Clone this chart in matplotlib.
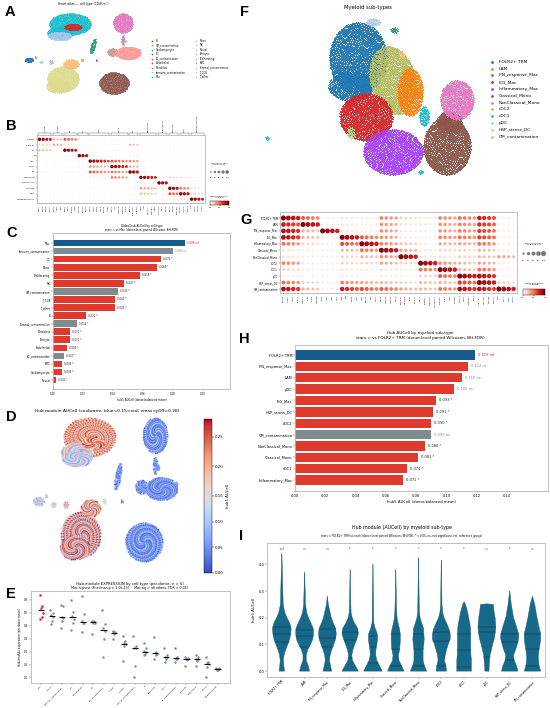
import numpy as np
import matplotlib
matplotlib.use("Agg")
import matplotlib.pyplot as plt
from matplotlib.colors import TwoSlopeNorm, Normalize
from matplotlib.cm import ScalarMappable

plt.rcParams['font.family'] = ['DejaVu Sans']

# ======================= DATA =======================
# ---- Panel A / D : heart atlas UMAP (embedding coordinates) ----
ATLAS_TYPES = ['B', 'CM_contamination', 'Cardiomyocyte', 'DC', 'EC_contamination', 'Endothelial',
               'Fibroblast', 'Immune_contamination', 'Mac', 'Mono', 'NK', 'Neural', 'Pericyte',
               'Proliferating', 'SMC', 'Stromal_contamination', 'T_CD8', 'T_other']
ATLAS_COLORS = ['#1f77b4', '#ff7f0e', '#279e68', '#d62728', '#aa40fc', '#8c564b', '#e377c2', '#b5bd61',
                '#17becf', '#aec7e8', '#ffbb78', '#98df8a', '#ff9896', '#c5b0d5', '#c49c94', '#f7b6d2',
                '#dbdb8d', '#9edae5']
A_BLOB_TYPE = ['Mac', 'Mac', 'Mono', 'DC', 'Fibroblast', 'Fibroblast', 'Cardiomyocyte', 'SMC', 'Pericyte',
               'B', 'T_CD8', 'T_CD8', 'NK', 'T_other', 'Proliferating', 'Endothelial', 'CM_contamination',
               'Neural', 'EC_contamination', 'Stromal_contamination', 'Immune_contamination']
A_BLOB_X = [70, 60, 60, 73, 123, 123, 93, 112, 128, 29, 63, 58, 71, 41, 51, 114, 35, 125, 96, 140, 82]
A_BLOB_Y = [24, 33, 36, 27, 23, 40, 46, 52, 53, 60, 79, 86, 64, 62, 62, 83, 57, 41, 60, 50, 60]
A_BLOB_RX = [21, 13, 12, 9, 10, 1.8, 2.2, 5, 13, 4.5, 16, 12, 8, 2, 2, 15, 1, 1.5, 1, 1, 1.5]
A_BLOB_RY = [11, 6, 4.5, 3.5, 10, 5, 8, 4, 6.5, 2.5, 13, 7, 5, 1.5, 2, 11, 1, 1.5, 1, 1, 1.5]
A_BLOB_ROT = [0, 0, 0, 0, 0, 0, 15, 0, 0, 0, 0, 0, 0, 0, 0, 0, 0, 0, 0, 0, 0]
# hub AUCell levels seen inside each blob (panel D)
D_BLOB_AUC = [[0.26, 0.21, 0.17, 0.24, 0.13, 0.22, 0.19],
              [0.16, 0.10, 0.19, 0.13, 0.22, 0.08, 0.15],
              [0.12, 0.16, 0.08, 0.19, 0.10, 0.14, 0.06],
              [0.25, 0.20, 0.27, 0.18, 0.23, 0.15, 0.21],
              [0.03, 0.06, 0.02, 0.09, 0.04, 0.12, 0.05],
              [0.03, 0.06, 0.02, 0.09, 0.04, 0.12, 0.05],
              [0.04, 0.08, 0.02, 0.06, 0.10, 0.03, 0.05],
              [0.03, 0.05, 0.08, 0.02, 0.06, 0.04, 0.10],
              [0.02, 0.05, 0.07, 0.03, 0.10, 0.04, 0.06],
              [0.10, 0.16, 0.07, 0.13, 0.19, 0.09, 0.12],
              [0.25, 0.19, 0.11, 0.23, 0.16, 0.27, 0.08],
              [0.25, 0.19, 0.11, 0.23, 0.16, 0.27, 0.08],
              [0.22, 0.14, 0.26, 0.18, 0.10, 0.24, 0.20],
              [0.20, 0.12, 0.16],
              [0.18, 0.10, 0.22],
              [0.02, 0.05, 0.03, 0.08, 0.04, 0.11, 0.06],
              [0.10], [0.05], [0.05], [0.06], [0.15]]

# ---- Panel B : atlas marker dotplot ----
B_ROWS = ['T_CD8', 'T_other', 'NK', 'B', 'Mac', 'Mono', 'DC', 'Fibroblast', 'Endothelial', 'Pericyte',
          'SMC', 'Cardiomyocyte']
B_GENES = [['CD8A', 'CD8B', 'GZMK', 'CCL5'], ['CD3E', 'IL7R', 'CD4'], ['NKG7', 'GNLY', 'KLRD1', 'PRF1'],
           ['MS4A1', 'CD79A', 'CD19'], ['CD68', 'C1QA', 'C1QB', 'MRC1', 'CD163', 'LYVE1'],
           ['CD14', 'LYZ', 'S100A8', 'S100A9', 'FCN1'], ['CD1C', 'CLEC10A', 'FCER1A'],
           ['DCN', 'LUM', 'COL1A1', 'PDGFRA', 'GSN'], ['PECAM1', 'VWF', 'CDH5'], ['RGS5', 'KCNJ8', 'PDGFRB'],
           ['MYH11', 'ACTA2', 'TAGLN'], ['TTN', 'MYH7', 'TNNT2', 'RYR2']]
B_EXPR = [[0.95, 0.30, 0.60, 0.05, 0.05, 0.05, 0.05, 0.03, 0.03, 0.03, 0.03, 0.03],
          [0.20, 0.35, 0.10, 0.05, 0.05, 0.05, 0.30, 0.03, 0.03, 0.03, 0.03, 0.03],
          [0.30, 0.05, 0.95, 0.05, 0.05, 0.05, 0.05, 0.03, 0.03, 0.03, 0.03, 0.03],
          [0.05, 0.05, 0.05, 0.95, 0.05, 0.05, 0.10, 0.03, 0.03, 0.03, 0.03, 0.03],
          [0.05, 0.05, 0.05, 0.05, 0.95, 0.60, 0.45, 0.05, 0.03, 0.03, 0.03, 0.03],
          [0.05, 0.05, 0.05, 0.05, 0.40, 0.95, 0.35, 0.03, 0.03, 0.03, 0.03, 0.03],
          [0.05, 0.05, 0.05, 0.05, 0.60, 0.50, 0.95, 0.03, 0.03, 0.03, 0.03, 0.03],
          [0.03, 0.03, 0.03, 0.03, 0.10, 0.50, 0.05, 0.95, 0.10, 0.20, 0.15, 0.10],
          [0.03, 0.03, 0.03, 0.03, 0.03, 0.03, 0.03, 0.10, 0.95, 0.10, 0.05, 0.05],
          [0.03, 0.03, 0.03, 0.03, 0.05, 0.03, 0.03, 0.40, 0.10, 0.95, 0.50, 0.15],
          [0.03, 0.03, 0.03, 0.03, 0.03, 0.03, 0.03, 0.30, 0.05, 0.60, 0.95, 0.20],
          [0.03, 0.03, 0.03, 0.03, 0.03, 0.03, 0.03, 0.05, 0.05, 0.10, 0.15, 0.95]]
B_FRAC = [[0.90, 0.40, 0.60, 0.15, 0.15, 0.15, 0.15, 0.12, 0.12, 0.12, 0.12, 0.12],
          [0.30, 0.40, 0.20, 0.15, 0.15, 0.15, 0.35, 0.12, 0.12, 0.12, 0.12, 0.12],
          [0.40, 0.15, 0.90, 0.15, 0.15, 0.15, 0.15, 0.12, 0.12, 0.12, 0.12, 0.12],
          [0.15, 0.15, 0.15, 0.90, 0.15, 0.15, 0.20, 0.12, 0.12, 0.12, 0.12, 0.12],
          [0.15, 0.15, 0.15, 0.15, 0.90, 0.60, 0.50, 0.15, 0.12, 0.12, 0.12, 0.12],
          [0.15, 0.15, 0.15, 0.15, 0.50, 0.90, 0.40, 0.12, 0.12, 0.12, 0.12, 0.12],
          [0.15, 0.15, 0.15, 0.15, 0.60, 0.55, 0.90, 0.12, 0.12, 0.12, 0.12, 0.12],
          [0.12, 0.12, 0.12, 0.12, 0.20, 0.50, 0.15, 0.90, 0.20, 0.30, 0.25, 0.20],
          [0.12, 0.12, 0.12, 0.12, 0.12, 0.12, 0.12, 0.20, 0.90, 0.20, 0.15, 0.15],
          [0.12, 0.12, 0.12, 0.12, 0.15, 0.12, 0.12, 0.45, 0.20, 0.90, 0.55, 0.25],
          [0.12, 0.12, 0.12, 0.12, 0.12, 0.12, 0.12, 0.40, 0.15, 0.60, 0.90, 0.30],
          [0.12, 0.12, 0.12, 0.12, 0.12, 0.12, 0.12, 0.15, 0.15, 0.20, 0.25, 0.90]]
GENE_SCALE = [1.0, 0.92, 0.85, 0.78, 0.72, 0.66]

# ---- Panel C : global hub AUCell by cell type ----
C_TYPES = ['Mac', 'Immune_contamination', 'DC', 'Mono', 'Proliferating', 'NK', 'CM_contamination', 'T_CD8',
           'T_other', 'B', 'Stromal_contamination', 'Fibroblast', 'Pericyte', 'Endothelial', 'EC_contamination',
           'SMC', 'Cardiomyocyte', 'Neural']
C_MEAN = [0.088, 0.080, 0.072, 0.069, 0.058, 0.047, 0.043, 0.041, 0.041, 0.022, 0.016, 0.011, 0.011, 0.009,
          0.007, 0.006, 0.006, 0.002]
C_SIG = ['ref', 'ns', '*', '*', '*', '*', '*', '*', '*', '*', '*', '*', '*', '*', '*', '*', '*', '*']
C_XTICKS = [0.00, 0.02, 0.04, 0.06, 0.08, 0.10]

# ---- Panel E : per-donor hub-module expression ----
E_TYPES = ['Mac', 'Mono', 'Immune_contamination', 'DC', 'Proliferating', 'NK', 'CM_contamination', 'T_CD8',
           'T_other', 'Stromal_contamination', 'B', 'Fibroblast', 'SMC', 'EC_contamination', 'Pericyte',
           'Endothelial', 'Neural', 'Cardiomyocyte']
E_DONOR = [[0.64, 0.55, 0.54, 0.50, 0.47, 0.45],
           [0.52, 0.50, 0.48, 0.465, 0.44, 0.41],
           [0.56, 0.55, 0.47, 0.462, 0.44, 0.38],
           [0.60, 0.51, 0.475, 0.455, 0.42, 0.37],
           [0.63, 0.49, 0.44, 0.425, 0.42, 0.35],
           [0.44, 0.435, 0.43, 0.425, 0.42, 0.34],
           [0.52, 0.41, 0.38, 0.36, 0.30, 0.16],
           [0.36, 0.355, 0.35, 0.345, 0.34, 0.30],
           [0.32, 0.28, 0.265, 0.255, 0.24, 0.13],
           [0.32, 0.24, 0.23, 0.225, 0.09, 0.00],
           [0.27, 0.23, 0.205, 0.195, 0.18, 0.17],
           [0.31, 0.20, 0.19, 0.185, 0.17, 0.14],
           [0.23, 0.17, 0.16, 0.155, 0.14, 0.12],
           [0.23, 0.16, 0.15, 0.145, 0.14, 0.12],
           [0.16, 0.15, 0.145, 0.14, 0.135, 0.09],
           [0.17, 0.155, 0.145, 0.14, 0.13, 0.09],
           [0.16, 0.12, 0.11, 0.105, 0.08, 0.00],
           [0.075, 0.07, 0.065, 0.062, 0.06, 0.055]]

# ---- Panel F : myeloid sub-type UMAP ----
F_TYPES = ['FOLR2+ TRM', 'LAM', 'IFN_response_Mac', 'IEG_Mac', 'Inflammatory_Mac', 'Classical_Mono',
           'NonClassical_Mono', 'cDC2', 'cDC1', 'pDC', 'HSP_stress_DC', 'CM_contamination']
F_COLORS = ['#1f77b4', '#ff7f0e', '#279e68', '#d62728', '#aa40fc', '#8c564b', '#e377c2', '#b5bd61',
            '#17becf', '#aec7e8', '#ffbb78', '#98df8a']
F_BLOB_TYPE = ['FOLR2+ TRM', 'FOLR2+ TRM', 'pDC', 'IFN_response_Mac', 'cDC2', 'LAM', 'IEG_Mac',
               'Inflammatory_Mac', 'Classical_Mono', 'Classical_Mono', 'NonClassical_Mono', 'cDC1', 'cDC1',
               'cDC1', 'CM_contamination', 'HSP_stress_DC']
F_BLOB_X = [358, 351, 373, 394, 393, 410, 366, 393, 447, 449, 457, 424, 421, 267, 351, 402]
F_BLOB_Y = [58, 86, 22, 30, 80, 92, 117, 152, 146, 122, 100, 116, 172, 138, 133, 55]
F_BLOB_RX = [29, 23, 7, 4, 23, 13, 27, 30, 24, 13, 17, 5, 3, 2, 4, 3]
F_BLOB_RY = [36, 15, 4, 3, 35, 24, 24, 23, 29, 11, 20, 10, 2, 2.5, 6, 3]
F_BLOB_ROT = [0, 0, 0, 0, -15, 0, 0, 0, 0, 0, 0, 0, 0, 0, 0, 0]

# ---- Panel G : myeloid marker dotplot ----
G_ROWS = F_TYPES
G_GENES = [['FOLR2', 'LYVE1', 'MRC1', 'F13A1'], ['TREM2', 'SPP1', 'APOE', 'GPNMB'],
           ['ISG15', 'IFIT1', 'IFIT3', 'MX1'], ['FOS', 'JUN', 'EGR1', 'IER2'],
           ['IL1B', 'CXCL8', 'TNF', 'CCL3'], ['CD14', 'S100A8', 'S100A9', 'VCAN'],
           ['FCGR3A', 'CX3CR1', 'LST1', 'MS4A7'], ['CD1C', 'FCER1A', 'CLEC10A', 'HLA-DQA1'],
           ['CLEC9A', 'XCR1', 'IDO1', 'CADM1'], ['LILRA4', 'IL3RA', 'CLEC4C', 'TCF4'],
           ['HSPA1A', 'HSPA1B', 'DNAJB1', 'HSPH1'], ['TTN', 'MYL7', 'NPPA', 'ACTC1']]
G_EXPR = [[0.95, 0.55, 0.08, 0.12, 0.08, 0.45, 0.20, 0.12, 0.45, 0.50, 0.75, 0.08],
          [0.75, 0.95, 0.08, 0.12, 0.08, 0.40, 0.15, 0.12, 0.40, 0.45, 0.70, 0.08],
          [0.85, 0.30, 0.95, 0.12, 0.08, 0.40, 0.12, 0.10, 0.40, 0.45, 0.65, 0.08],
          [0.85, 0.30, 0.10, 0.95, 0.55, 0.40, 0.12, 0.10, 0.45, 0.50, 0.65, 0.08],
          [0.50, 0.20, 0.10, 0.60, 0.95, 0.45, 0.25, 0.10, 0.35, 0.35, 0.50, 0.08],
          [0.15, 0.08, 0.08, 0.30, 0.50, 0.95, 0.35, 0.12, 0.20, 0.20, 0.30, 0.08],
          [0.15, 0.08, 0.08, 0.20, 0.30, 0.40, 0.95, 0.12, 0.15, 0.20, 0.30, 0.35],
          [0.45, 0.10, 0.08, 0.20, 0.20, 0.35, 0.20, 0.95, 0.40, 0.30, 0.35, 0.08],
          [0.20, 0.08, 0.08, 0.15, 0.10, 0.15, 0.10, 0.50, 0.95, 0.30, 0.50, 0.08],
          [0.08, 0.05, 0.05, 0.10, 0.05, 0.10, 0.05, 0.20, 0.55, 0.95, 0.85, 0.08],
          [0.50, 0.20, 0.10, 0.45, 0.35, 0.30, 0.20, 0.30, 0.30, 0.65, 0.95, 0.20],
          [0.85, 0.30, 0.10, 0.75, 0.60, 0.55, 0.35, 0.30, 0.50, 0.85, 0.80, 0.95]]
G_FRAC = [[0.95, 0.60, 0.20, 0.25, 0.20, 0.50, 0.30, 0.25, 0.50, 0.55, 0.75, 0.20],
          [0.80, 0.95, 0.20, 0.25, 0.20, 0.45, 0.25, 0.25, 0.45, 0.50, 0.70, 0.20],
          [0.85, 0.40, 0.95, 0.25, 0.20, 0.45, 0.25, 0.20, 0.45, 0.50, 0.65, 0.20],
          [0.85, 0.40, 0.20, 0.95, 0.60, 0.45, 0.25, 0.20, 0.50, 0.55, 0.65, 0.20],
          [0.55, 0.30, 0.20, 0.65, 0.95, 0.50, 0.35, 0.20, 0.40, 0.40, 0.55, 0.20],
          [0.25, 0.20, 0.20, 0.35, 0.55, 0.95, 0.40, 0.25, 0.30, 0.30, 0.35, 0.20],
          [0.25, 0.20, 0.20, 0.30, 0.35, 0.45, 0.95, 0.25, 0.25, 0.30, 0.35, 0.40],
          [0.50, 0.20, 0.20, 0.30, 0.30, 0.40, 0.30, 0.95, 0.45, 0.35, 0.40, 0.20],
          [0.30, 0.20, 0.20, 0.25, 0.20, 0.25, 0.20, 0.55, 0.95, 0.35, 0.55, 0.20],
          [0.20, 0.15, 0.15, 0.20, 0.15, 0.20, 0.15, 0.30, 0.60, 0.95, 0.85, 0.20],
          [0.55, 0.30, 0.20, 0.50, 0.40, 0.35, 0.30, 0.35, 0.35, 0.70, 0.95, 0.30],
          [0.85, 0.40, 0.20, 0.75, 0.65, 0.60, 0.40, 0.35, 0.55, 0.85, 0.80, 0.95]]

# ---- Panel H : hub AUCell by myeloid sub-type ----
H_TYPES = ['FOLR2+ TRM', 'IFN_response_Mac', 'LAM', 'pDC', 'IEG_Mac', 'HSP_stress_DC', 'cDC2',
           'CM_contamination', 'NonClassical_Mono', 'Classical_Mono', 'cDC1', 'Inflammatory_Mac']
H_MEAN = [0.119, 0.114, 0.110, 0.105, 0.093, 0.091, 0.090, 0.090, 0.086, 0.081, 0.074, 0.071]
H_SIG = ['ref', 'ns', 'ns', 'ns', '*', '*', '*', 'ns', '*', '*', '*', '*']
H_XTICKS = [0.00, 0.02, 0.04, 0.06, 0.08, 0.10, 0.12, 0.14]

# ---- Panel I : violin profiles (half-width at AUCell levels) ----
I_TYPES = ['FOLR2+ TRM', 'LAM', 'IFN_response_Mac', 'IEG_Mac', 'Inflammatory_Mac', 'Classical_Mono',
           'NonClassical_Mono', 'cDC2', 'cDC1', 'pDC', 'HSP_stress_DC', 'CM_contamination']
I_LEVELS = [0.0, 0.02, 0.04, 0.06, 0.08, 0.10, 0.12, 0.14, 0.16, 0.18, 0.20, 0.22, 0.25]
I_WIDTH = [[0.12, 0.09, 0.07, 0.10, 0.17, 0.26, 0.35, 0.39, 0.41, 0.35, 0.23, 0.13, 0.06],
           [0.22, 0.16, 0.07, 0.07, 0.14, 0.26, 0.36, 0.39, 0.38, 0.28, 0.17, 0.09, 0.04],
           [0.19, 0.14, 0.09, 0.12, 0.19, 0.28, 0.36, 0.39, 0.36, 0.26, 0.17, 0.12, 0.04],
           [0.36, 0.23, 0.10, 0.07, 0.12, 0.20, 0.29, 0.36, 0.33, 0.19, 0.09, 0.04, 0.03],
           [0.41, 0.29, 0.17, 0.12, 0.13, 0.17, 0.20, 0.19, 0.10, 0.04, 0.03, 0.03, 0.03],
           [0.36, 0.26, 0.14, 0.12, 0.17, 0.19, 0.20, 0.20, 0.16, 0.10, 0.06, 0.04, 0.03],
           [0.36, 0.26, 0.20, 0.20, 0.20, 0.23, 0.25, 0.23, 0.22, 0.14, 0.07, 0.04, 0.03],
           [0.23, 0.20, 0.14, 0.17, 0.23, 0.30, 0.39, 0.39, 0.33, 0.23, 0.12, 0.06, 0.03],
           [0.32, 0.32, 0.32, 0.30, 0.29, 0.29, 0.29, 0.29, 0.28, 0.25, 0.20, 0.16, 0.06],
           [0.09, 0.10, 0.12, 0.14, 0.20, 0.25, 0.32, 0.36, 0.39, 0.38, 0.36, 0.32, 0.28],
           [0.36, 0.30, 0.20, 0.17, 0.26, 0.33, 0.39, 0.39, 0.32, 0.25, 0.17, 0.13, 0.07],
           [0.36, 0.29, 0.26, 0.26, 0.29, 0.33, 0.36, 0.36, 0.30, 0.25, 0.20, 0.16, 0.10]]
I_TOP = [0.44, 0.37, 0.28, 0.38, 0.40, 0.38, 0.425, 0.416, 0.26, 0.252, 0.30, 0.28]
I_QUART = [[0.11, 0.14, 0.165], [0.09, 0.131, 0.154], [0.09, 0.125, 0.159], [0.05, 0.115, 0.146],
           [0.03, 0.09, 0.131], [0.02, 0.084, 0.14], [0.02, 0.084, 0.14], [0.019, 0.1125, 0.146],
           [0.015, 0.0775, 0.14], [0.054, 0.1475, 0.166], [0.04, 0.109, 0.14], [0.02, 0.084, 0.1375]]
I_SIG = ['ref', 'ns', 'ns', '*', '*', '*', '*', '*', '*', 'ns', '*', 'ns']
I_YTICKS = [0.0, 0.1, 0.2, 0.3, 0.4]

# ======================= STYLE / HELPERS =======================
W, H = 550, 708
fig = plt.figure(figsize=(5.5, 7.08), dpi=100)
fig.patch.set_facecolor('white')

RED_BAR = '#e0392d'
BLUE_BAR = '#175a8c'
GRAY_BAR = '#7e8c8f'
SIG_COL = {'ref': '#e8202a', 'ns': '#8a8a8a', '*': '#222222'}
VIOLIN_COL = '#17698a'
GOLDEN = np.pi * (3 - np.sqrt(5))


def axp(x0, y0, x1, y1):
    return fig.add_axes([x0 / W, 1 - y1 / H, (x1 - x0) / W, (y1 - y0) / H])


def ftext(x, y, s, **kw):
    kw.setdefault('ha', 'center')
    kw.setdefault('va', 'center')
    fig.text(x / W, 1 - y / H, s, **kw)


def frame(ax, color='#b5b5b5', lw=0.6):
    for s in ax.spines.values():
        s.set_color(color)
        s.set_linewidth(lw)


def ticks(ax, fs):
    ax.tick_params(length=1.2, width=0.3, pad=0.8, labelsize=fs, color='#555555')


def blob(cx, cy, rx, ry, rot, density):
    n = max(int(np.pi * rx * ry * density), 4)
    i = np.arange(n) + 0.5
    r = np.sqrt(i / n)
    t = i * GOLDEN
    u = r * np.cos(t) * rx
    v = r * np.sin(t) * ry
    a = np.deg2rad(rot)
    return cx + u * np.cos(a) - v * np.sin(a), cy + u * np.sin(a) + v * np.cos(a)


def bar_color(name, sig):
    if sig == 'ref':
        return BLUE_BAR
    if 'contamination' in name:
        return GRAY_BAR
    return RED_BAR


def letter(x, y, s):
    ftext(x, y, s, fontsize=10.5, fontweight='bold', family='Liberation Sans', ha='left')


# ======================= PANEL A =======================
axA = axp(20, 10, 145, 98)
axA.set_xlim(20, 145)
axA.set_ylim(98, 10)
axA.axis('off')
all_x, all_y, all_auc = [], [], []
for k, t in enumerate(A_BLOB_TYPE):
    x, y = blob(A_BLOB_X[k], A_BLOB_Y[k], A_BLOB_RX[k], A_BLOB_RY[k], A_BLOB_ROT[k], 2.0)
    col = ATLAS_COLORS[ATLAS_TYPES.index(t)]
    axA.scatter(x, y, s=0.35, c=col, linewidths=0)
    lv = D_BLOB_AUC[k]
    all_x.append(x)
    all_y.append(y)
    all_auc.append(np.array([lv[i % len(lv)] for i in range(len(x))]))
ftext(83, 4, 'Heart atlas \u2014 cell type (CD45+/-)', fontsize=2.2)
for i, t in enumerate(ATLAS_TYPES):
    c, r = divmod(i, 9)
    mx = 152 + c * 43.5
    my = 40.7 + r * 4.5
    fig.add_artist(plt.Line2D([mx / W], [1 - my / H], marker='o', ms=1.2, mew=0,
                              color=ATLAS_COLORS[i], transform=fig.transFigure))
    ftext(mx + 4, my, t, fontsize=1.8, ha='left')
letter(5, 12, 'A')

# ======================= PANEL B =======================
def dotplot(ax, rows, genes, expr, frac, smax, fs_gene, fs_row):
    xs, ys, ss, cs, labels, spans = [], [], [], [], [], []
    col = 0
    for g, gl in enumerate(genes):
        start = col
        for j, gene in enumerate(gl):
            for r in range(len(rows)):
                xs.append(col)
                ys.append(r)
                ss.append(smax * frac[r][g] * GENE_SCALE[j])
                cs.append(expr[r][g] * GENE_SCALE[j])
            labels.append(gene)
            col += 1
        spans.append((start, col - 1))
    ax.scatter(xs, ys, s=ss, c=cs, cmap='Reds', vmin=0, vmax=1, linewidths=0)
    ax.set_xticks(range(col))
    ax.set_xticklabels(labels, rotation=90, fontsize=fs_gene)
    ax.set_yticks(range(len(rows)))
    ax.set_yticklabels(rows, fontsize=fs_row)
    ax.set_xlim(-0.7, col - 0.3)
    frame(ax, '#a8a8a8', 0.5)
    ax.tick_params(length=0.8, width=0.25, pad=0.6)
    return spans


def size_legend(x0, y0, x1, y1, smax, fs):
    lax = axp(x0, y0, x1, y1)
    lax.axis('off')
    fr = [0.2, 0.4, 0.6, 0.8, 1.0]
    lax.scatter(range(5), [0] * 5, s=[smax * f for f in fr], c='#7a7a7a', linewidths=0)
    for i, f in enumerate(fr):
        lax.text(i, -1.3, str(int(f * 100)), ha='center', va='top', fontsize=fs)
    lax.set_xlim(-0.7, 4.7)
    lax.set_ylim(-2.5, 1)


def color_legend(x0, y0, x1, y1, fs):
    cax = axp(x0, y0, x1, y1)
    cb = fig.colorbar(ScalarMappable(Normalize(0, 1), 'Reds'), cax=cax, orientation='horizontal')
    cb.set_ticks([0, 0.5, 1])
    cb.ax.tick_params(labelsize=fs, length=0.8, width=0.25, pad=0.5)
    cb.outline.set_linewidth(0.3)


axB = axp(37, 135, 205, 203)
spansB = dotplot(axB, B_ROWS, B_GENES, B_EXPR, B_FRAC, 7.0, 1.5, 1.7)
axB.set_ylim(11.7, -0.8)
trB = axB.get_xaxis_transform()
for (s0, s1), name in zip(spansB, B_ROWS):
    axB.plot([s0 - 0.3, s0 - 0.3, s1 + 0.3, s1 + 0.3], [1.005, 1.03, 1.03, 1.005], color='#555555',
             lw=0.3, transform=trB, clip_on=False)
    axB.text((s0 + s1) / 2, 1.05, name, rotation=90, ha='center', va='bottom', fontsize=1.6,
             transform=trB)
ftext(219, 164, 'Fraction of cells\nin group (%)', fontsize=1.5)
size_legend(208, 168, 230, 182, 7.0, 1.4)
ftext(219, 197, 'Mean expression\nin group', fontsize=1.5)
color_legend(210, 201, 229, 205, 1.4)
letter(6, 126, 'B')

# ======================= PANEL C =======================
axC = axp(53, 233, 230, 389)
yC = np.arange(len(C_TYPES))
axC.barh(yC, C_MEAN, height=0.82, color=[bar_color(t, s) for t, s in zip(C_TYPES, C_SIG)])
for i, (v, s) in enumerate(zip(C_MEAN, C_SIG)):
    axC.text(v + 0.0015, i, f'{v:.3f} {s}', va='center', ha='left', fontsize=1.9, color=SIG_COL[s])
axC.set_ylim(18.1, -1.24)
axC.set_xlim(0, 0.118)
axC.set_yticks(yC)
axC.set_yticklabels(C_TYPES)
axC.set_xticks(C_XTICKS)
axC.set_xticklabels([f'{v:.2f}' for v in C_XTICKS])
ticks(axC, 1.9)
frame(axC)
axC.set_xlabel('hub5 AUCell (donor-balanced mean)', fontsize=2.0, labelpad=1.5)
ftext(142, 226.5, 'Global hub AUCell by cell type', fontsize=2.0)
ftext(142, 230.5, 'stars = vs Mac (donor-level paired Wilcoxon, BH-FDR)', fontsize=2.0)
letter(6, 233, 'C')

# ======================= PANEL D =======================
axD = axp(27.8, 412.7, 182.8, 569)
axD.set_xlim(20, 145)
axD.set_ylim(98, 10)
axD.axis('off')
normD = TwoSlopeNorm(vmin=0.0, vcenter=0.15, vmax=0.28)
for x, y, a in zip(all_x, all_y, all_auc):
    axD.scatter(x, y, s=1.5, c=a, cmap='coolwarm', norm=normD, linewidths=0)
caxD = axp(204, 419, 212, 573)
cbD = fig.colorbar(ScalarMappable(normD, 'coolwarm'), cax=caxD)
cbD.set_ticks([0.0, 0.05, 0.10, 0.15, 0.20, 0.25])
cbD.set_ticklabels(['0.00', '0.05', '0.10', '0.15', '0.20', '0.25'])
cbD.ax.tick_params(labelsize=2.8, length=1.2, width=0.3, pad=0.8)
cbD.outline.set_linewidth(0.3)
ftext(228, 496, 'hub5 AUCell', fontsize=2.8, rotation=90)
ftext(107, 411, 'Hub module AUCell (coolwarm, blue<0.15<red; vmax=p99=0.28)', fontsize=3.2)
letter(6, 417, 'D')

# ======================= PANEL E =======================
axE = axp(31, 591, 230, 683)
E_JIT = [-0.12, 0.10, -0.05, 0.13, 0.02, -0.10]
for i, (t, vals) in enumerate(zip(E_TYPES, E_DONOR)):
    col = '#e8202a' if i == 0 else '#7d9096'
    axE.scatter([i + j for j in E_JIT], vals, s=3.2, c=col, linewidths=0, zorder=3)
    axE.hlines(np.median(vals), i - 0.3, i + 0.3, color='black', lw=0.7, zorder=4)
axE.set_xlim(-1.0, 18.2)
axE.set_ylim(-0.043, 0.669)
axE.set_xticks(range(len(E_TYPES)))
axE.set_xticklabels(E_TYPES, rotation=45, ha='right', rotation_mode='anchor')
axE.set_yticks([0.0, 0.1, 0.2, 0.3, 0.4, 0.5, 0.6])
ticks(axE, 2.0)
axE.tick_params(axis='x', labelsize=1.6, pad=0.6)
frame(axE)
axE.set_ylabel('Hub-module expression (per-donor mean)', fontsize=2.0, labelpad=1.5)
ftext(130, 583.5, 'Hub-module EXPRESSION by cell type (per-donor; n = 6)', fontsize=2.7)
ftext(130, 588, 'Mac highest (Friedman p = 2.0e-15)  \u00b7  Mac sig > all others, FDR < 0.05)',
      fontsize=2.3)
letter(6, 594, 'E')

# ======================= PANEL F =======================
axF = axp(262, 14, 478, 178)
axF.set_xlim(262, 478)
axF.set_ylim(178, 14)
axF.axis('off')
for k, t in enumerate(F_BLOB_TYPE):
    x, y = blob(F_BLOB_X[k], F_BLOB_Y[k], F_BLOB_RX[k], F_BLOB_RY[k], F_BLOB_ROT[k], 1.0)
    axF.scatter(x, y, s=0.5, c=F_COLORS[F_TYPES.index(t)], linewidths=0)
ftext(368, 7, 'Myeloid sub-types', fontsize=3.8)
for i, t in enumerate(F_TYPES):
    my = 61.7 + i * 6.8
    fig.add_artist(plt.Line2D([492 / W], [1 - my / H], marker='o', ms=2.0, mew=0,
                              color=F_COLORS[i], transform=fig.transFigure))
    ftext(499, my, t, fontsize=3.2, ha='left')
letter(240, 12, 'F')

# ======================= PANEL G =======================
axG = axp(280, 212, 517, 293)
dotplot(axG, G_ROWS, G_GENES, G_EXPR, G_FRAC, 14.0, 1.6, 1.9)
axG.set_ylim(11.62, -0.93)
ftext(534, 244, 'Fraction of cells\nin group (%)', fontsize=1.6)
size_legend(520, 249, 547, 265, 14.0, 1.5)
ftext(534, 284, 'Mean expression\nin group', fontsize=1.6)
color_legend(523, 289, 545, 295, 1.5)
letter(240, 220, 'G')

# ======================= PANEL H =======================
axH = axp(295, 345, 548, 491)
yH = np.arange(len(H_TYPES))
axH.barh(yH, H_MEAN, height=0.82, color=[bar_color(t, s) for t, s in zip(H_TYPES, H_SIG)])
for i, (v, s) in enumerate(zip(H_MEAN, H_SIG)):
    axH.text(v + 0.002, i, f'{v:.3f} {s}', va='center', ha='left', fontsize=2.6, color=SIG_COL[s])
axH.set_ylim(11.96, -0.88)
axH.set_xlim(0, 0.167)
axH.set_yticks(yH)
axH.set_yticklabels(H_TYPES)
axH.set_xticks(H_XTICKS)
axH.set_xticklabels([f'{v:.2f}' for v in H_XTICKS])
ticks(axH, 2.6)
frame(axH)
axH.set_xlabel('hub5 AUCell (donor-balanced mean)', fontsize=2.7, labelpad=1.5)
ftext(420, 332.5, 'Hub AUCell by myeloid sub-type', fontsize=3.0)
ftext(420, 338, 'stars = vs FOLR2+ TRM (donor-level paired Wilcoxon, BH-FDR)', fontsize=3.0)
letter(239, 339, 'H')

# ======================= PANEL I =======================
axI = axp(267, 543, 545, 677)
lev = np.array(I_LEVELS)
for k in range(len(I_TYPES)):
    w = np.array(I_WIDTH[k])
    ys = np.concatenate([lev, [I_TOP[k]]])
    ws = np.concatenate([w, [0.004]])
    xs = np.concatenate([k + ws, (k - ws)[::-1]])
    yy = np.concatenate([ys, ys[::-1]])
    axI.fill(xs, yy, color=VIOLIN_COL, lw=0.3, ec='#145a74', zorder=2)
    for q in I_QUART[k]:
        hw = np.interp(q, ys, ws)
        axI.plot([k - hw, k + hw], [q, q], color='#0b2c3b', lw=0.35, zorder=3)
    axI.text(k, 0.458, I_SIG[k], ha='center', va='center', fontsize=2.6, color=SIG_COL[I_SIG[k]])
axI.set_xlim(-0.65, 11.55)
axI.set_ylim(-0.022, 0.48)
axI.set_xticks(range(len(I_TYPES)))
axI.set_xticklabels(I_TYPES, rotation=45, ha='right', rotation_mode='anchor')
axI.set_yticks(I_YTICKS)
ticks(axI, 2.6)
axI.tick_params(axis='x', labelsize=2.2)
frame(axI)
axI.set_ylabel('hub5 AUCell', fontsize=2.8, labelpad=1.5)
ftext(402, 528, 'Hub module (AUCell) by myeloid sub-type', fontsize=3.4)
ftext(402, 536.5, 'stars = FOLR2+ TRM vs each (donor-level paired Wilcoxon, BH-FDR; * < 0.05; '
      'ns, not significant; ref, reference group)', fontsize=2.0)
letter(239, 536, 'I')

fig.savefig('out.png', dpi=100)
